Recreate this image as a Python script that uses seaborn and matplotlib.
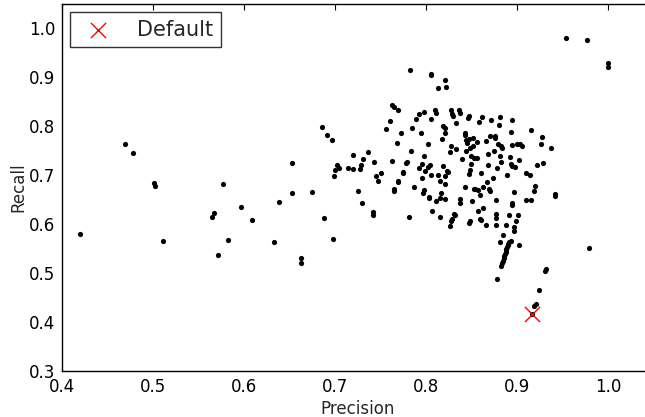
import matplotlib
matplotlib.use("Agg")
import matplotlib.pyplot as plt
import seaborn as sns
import pandas as pd

precision = [
    0.420, 0.469, 0.478, 0.501, 0.502, 0.511, 0.565, 0.567, 0.577, 0.582, 0.571, 0.596,
    0.609, 0.633, 0.638, 0.652, 0.652, 0.662, 0.662, 0.674, 0.686, 0.691, 0.696, 0.688,
    0.698, 0.699, 0.700, 0.702, 0.704, 0.714, 0.720, 0.720, 0.725, 0.727, 0.728, 0.730,
    0.729, 0.736, 0.741, 0.741, 0.743, 0.745, 0.747, 0.750, 0.756, 0.760, 0.762, 0.764,
    0.762, 0.764, 0.764, 0.769, 0.768, 0.769, 0.769, 0.772, 0.774, 0.774, 0.778, 0.779,
    0.782, 0.781, 0.784, 0.783, 0.787, 0.789, 0.792, 0.794, 0.792, 0.795, 0.795, 0.796,
    0.798, 0.798, 0.798, 0.799, 0.802, 0.802, 0.803, 0.803, 0.805, 0.805, 0.805, 0.804,
    0.805, 0.806, 0.810, 0.811, 0.811, 0.813, 0.813, 0.815, 0.815, 0.815, 0.816, 0.817,
    0.818, 0.818, 0.820, 0.820, 0.821, 0.822, 0.821, 0.821, 0.820, 0.823, 0.824, 0.826,
    0.827, 0.827, 0.828, 0.829, 0.826, 0.827, 0.828, 0.830, 0.831, 0.833, 0.833, 0.836,
    0.837, 0.837, 0.837, 0.839, 0.842, 0.843, 0.843, 0.844, 0.844, 0.845, 0.846, 0.847,
    0.847, 0.847, 0.848, 0.848, 0.847, 0.848, 0.849, 0.849, 0.850, 0.851, 0.851, 0.852,
    0.852, 0.853, 0.856, 0.856, 0.857, 0.857, 0.858, 0.859, 0.859, 0.860, 0.860, 0.861,
    0.862, 0.862, 0.865, 0.866, 0.867, 0.868, 0.868, 0.869, 0.870, 0.870, 0.871, 0.873,
    0.874, 0.875, 0.875, 0.877, 0.876, 0.876, 0.877, 0.878, 0.878, 0.879, 0.880, 0.881,
    0.881, 0.882, 0.881, 0.882, 0.883, 0.884,
    0.8825, 0.883, 0.884, 0.8848, 0.8855, 0.886, 0.887, 0.8875, 0.888, 0.889, 0.8895, 0.890,
    0.891, 0.8925,
    0.887, 0.889, 0.891, 0.892, 0.893, 0.894, 0.893, 0.894, 0.894, 0.894, 0.894, 0.896,
    0.896, 0.896, 0.897, 0.898, 0.900, 0.901, 0.902, 0.902, 0.903, 0.905, 0.910, 0.910,
    0.914, 0.915, 0.915, 0.918, 0.919, 0.920, 0.9187, 0.924, 0.921, 0.926, 0.927, 0.928,
    0.931, 0.930, 0.937, 0.941, 0.941, 0.953, 0.976, 1.000, 1.000, 0.979, 0.916,
]
recall = [
    0.580, 0.764, 0.746, 0.685, 0.678, 0.565, 0.615, 0.622, 0.683, 0.567, 0.537, 0.635,
    0.608, 0.564, 0.646, 0.725, 0.664, 0.531, 0.520, 0.665, 0.799, 0.782, 0.773, 0.612,
    0.569, 0.698, 0.711, 0.721, 0.715, 0.715, 0.741, 0.712, 0.667, 0.713, 0.722, 0.733,
    0.644, 0.748, 0.618, 0.624, 0.727, 0.699, 0.688, 0.705, 0.794, 0.810, 0.844, 0.839,
    0.730, 0.672, 0.668, 0.833, 0.766, 0.687, 0.689, 0.786, 0.706, 0.704, 0.726, 0.728,
    0.916, 0.614, 0.796, 0.749, 0.677, 0.816, 0.826, 0.786, 0.715, 0.724, 0.694, 0.664,
    0.670, 0.830, 0.739, 0.709, 0.717, 0.763, 0.655, 0.653, 0.814, 0.907, 0.905, 0.722,
    0.700, 0.626, 0.834, 0.828, 0.647, 0.878, 0.700, 0.689, 0.654, 0.615, 0.664, 0.774,
    0.718, 0.800, 0.682, 0.796, 0.894, 0.881, 0.786, 0.698, 0.651, 0.709, 0.707, 0.748,
    0.760, 0.833, 0.825, 0.822, 0.597, 0.606, 0.611, 0.621, 0.619, 0.807, 0.754, 0.833,
    0.828, 0.652, 0.644, 0.734, 0.787, 0.782, 0.675, 0.773, 0.749, 0.765, 0.818, 0.822,
    0.775, 0.703, 0.711, 0.756, 0.602, 0.607, 0.740, 0.724, 0.647, 0.776, 0.759, 0.736,
    0.671, 0.672, 0.735, 0.767, 0.669, 0.627, 0.809, 0.659, 0.611, 0.608, 0.705, 0.820,
    0.677, 0.634, 0.771, 0.599, 0.687, 0.743, 0.721, 0.672, 0.668, 0.780, 0.812, 0.694,
    0.750, 0.781, 0.777, 0.650, 0.621, 0.613, 0.598, 0.488, 0.715, 0.764, 0.803, 0.820,
    0.739, 0.728, 0.564, 0.760, 0.755, 0.577,
    0.515, 0.520, 0.525, 0.530, 0.535, 0.539, 0.543, 0.547, 0.550, 0.554, 0.557, 0.560,
    0.563, 0.566,
    0.599, 0.700, 0.619, 0.737, 0.789, 0.812, 0.724, 0.761, 0.719, 0.639, 0.643, 0.587,
    0.594, 0.665, 0.716, 0.607, 0.763, 0.618, 0.732, 0.557, 0.763, 0.759, 0.650, 0.705,
    0.700, 0.792, 0.650, 0.668, 0.679, 0.437, 0.432, 0.466, 0.721, 0.763, 0.778, 0.726,
    0.509, 0.504, 0.756, 0.661, 0.657, 0.980, 0.976, 0.930, 0.921, 0.551, 0.416,
]

default_precision = [0.916]
default_recall = [0.416]
default_label = "Default"

x_ticks = [0.4, 0.5, 0.6, 0.7, 0.8, 0.9, 1.0]
y_ticks = [0.3, 0.4, 0.5, 0.6, 0.7, 0.8, 0.9, 1.0]

sns.set_style("white")
plt.rcParams["font.family"] = ["DejaVu Sans"]
plt.rcParams["xtick.direction"] = "in"
plt.rcParams["ytick.direction"] = "in"

fig = plt.figure(figsize=(6.45, 4.17), dpi=100)
ax = fig.add_axes([62 / 645, 46 / 417, 592 / 645, 367 / 417])

df = pd.DataFrame({"Precision": precision, "Recall": recall})
df_def = pd.DataFrame({"Precision": default_precision, "Recall": default_recall})

sns.scatterplot(data=df, x="Precision", y="Recall", ax=ax, color="black",
                s=14, linewidth=0, legend=False, zorder=2)
sns.scatterplot(data=df_def, x="Precision", y="Recall", ax=ax, color="red",
                marker="x", s=120, linewidths=1.0, label=default_label, zorder=3)

ax.set_xlim(0.4, 1.05)
ax.set_ylim(0.3, 1.05)
ax.set_xticks(x_ticks)
ax.set_yticks(y_ticks)
ax.set_xticklabels([f"{t:.1f}" for t in x_ticks])
ax.set_yticklabels([f"{t:.1f}" for t in y_ticks])
ax.tick_params(axis="both", which="both", direction="in", length=4, width=0.8,
               labelsize=12, top=True, right=True, pad=5, colors="black")
for sp in ax.spines.values():
    sp.set_color("black")
    sp.set_linewidth(1.0)
ax.set_xlabel("Precision", fontsize=12, labelpad=3)
ax.set_ylabel("Recall", fontsize=12, labelpad=1)

leg = ax.legend(loc="upper left", fontsize=15, frameon=True, fancybox=False,
                scatterpoints=1, handlelength=2.0, handletextpad=0.86, borderpad=0.35,
                borderaxespad=0.4)
leg.get_frame().set_edgecolor("black")
leg.get_frame().set_linewidth(1.0)

fig.savefig("out.png", dpi=100, facecolor="white")
